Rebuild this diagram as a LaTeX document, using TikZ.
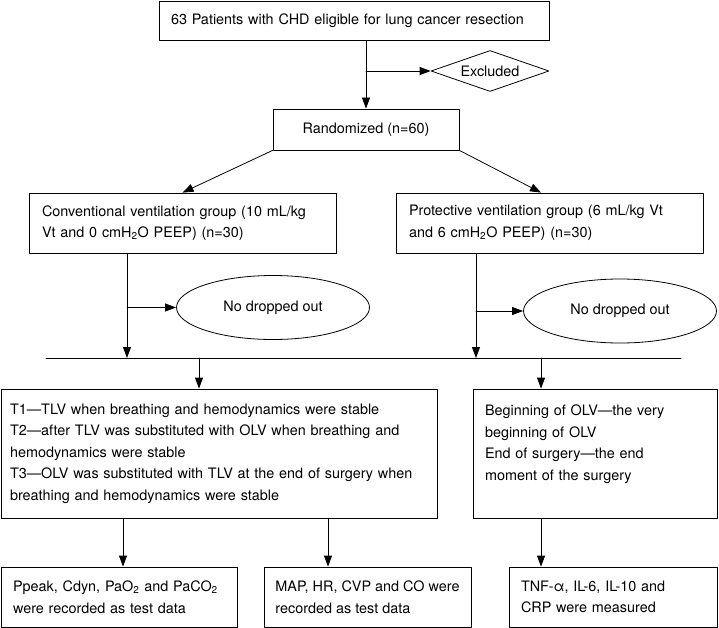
\documentclass[tikz,border=0pt]{standalone}
\usepackage{fontspec}
\setmainfont{TeX Gyre Heros}
\usepackage{tikz}
\usetikzlibrary{arrows.meta}
\usetikzlibrary{shapes.geometric}

\begin{document}
\begin{tikzpicture}[line cap=round,line join=round,>={Triangle[length=11pt,width=8pt]},x=1pt,y=-1pt,line width=0.8pt,
every node/.style={font=\fontsize{14.4pt}{21.5pt}\selectfont},
box/.style={draw,rectangle,inner ysep=0pt,inner xsep=12pt,align=left},
oval/.style={draw,ellipse,minimum width=193pt,minimum height=64pt,inner sep=0pt},
dia/.style={draw,diamond,aspect=2.8,minimum width=118pt,minimum height=41pt,inner sep=0pt}]
\useasboundingbox (0,0) rectangle (719,628);
\node[box,minimum width=390pt,minimum height=39pt,text width=366pt] (elig) at (354,20.5) {63 Patients with CHD eligible for lung cancer resection};
\node[dia] (excl) at (490,71) {Excluded};
\node[box,minimum width=186pt,minimum height=41pt,align=center] (rand) at (366,129.5) {Randomized (n=60)};
\node[box,minimum width=307pt,minimum height=60pt,text width=281pt,inner xsep=13pt] (conv) at (182.5,223) {Conventional ventilation group (10 mL/kg\\Vt and 0 cmH\textsubscript{2}O PEEP) (n=30)};
\node[box,minimum width=307pt,minimum height=60pt,text width=281pt,inner xsep=13pt] (prot) at (549.5,223) {Protective ventilation group (6 mL/kg Vt\\and 6 cmH\textsubscript{2}O PEEP) (n=30)};
\node[oval] (drop1) at (273,307.5) {No dropped out};
\node[oval] (drop2) at (620,311) {No dropped out};
\node[box,minimum width=436pt,minimum height=129pt,text width=418pt,inner xsep=9pt] (times) at (219,453.5) {T1—TLV when breathing and hemodynamics were stable\\T2—after TLV was substituted with OLV when breathing and\\hemodynamics were stable\\T3—OLV was substituted with TLV at the end of surgery when\\breathing and hemodynamics were stable};
\node[box,minimum width=244pt,minimum height=129pt,text width=220pt] (olv) at (595,453.5) {Beginning of OLV—the very\\beginning of OLV\\End of surgery—the end\\moment of the surgery\\\mbox{}};
\node[box,minimum width=236pt,minimum height=60pt,text width=212pt] (resp) at (119,597) {Ppeak, Cdyn, PaO\textsubscript{2} and PaCO\textsubscript{2}\\were recorded as test data};
\node[box,minimum width=207pt,minimum height=60pt,inner xsep=8pt] (hemo) at (367.5,597) {MAP, HR, CVP and CO were\\recorded as test data};
\node[box,minimum width=208pt,minimum height=60pt,text width=184pt] (cyto) at (613,597) {TNF-α, IL-6, IL-10 and\\CRP were measured};
\coordinate (hl) at (46,358);
\coordinate (hr) at (681,358);
\coordinate (j1) at (127,358);
\coordinate (j2) at (476,358);
\coordinate (k1) at (199,358);
\coordinate (k2) at (541,358);
\coordinate (m1) at (123,0);
\coordinate (m2) at (328,0);
\draw[->] (elig.south -| rand.north) -- (rand.north);
\draw[->] (excl.west -| rand.north) -- (excl.west);
\draw[->] (rand.south west) -- (conv.north);
\draw[->] (rand.south east) -- (prot.north -| k2);
\draw (hl) -- (hr);
\draw[->] (conv.south -| j1) -- (j1);
\draw[->] (prot.south -| j2) -- (j2);
\draw[->] (drop1.west -| j1) -- (drop1.west);
\draw[->] (drop2.west -| j2) -- (drop2.west);
\draw[->] (k1) -- (times.north -| k1);
\draw[->] (k2) -- (olv.north -| k2);
\draw[->] (times.south -| m1) -- (resp.north -| m1);
\draw[->] (times.south -| m2) -- (hemo.north -| m2);
\draw[->] (olv.south -| k2) -- (cyto.north -| k2);
\end{tikzpicture}
\end{document}
